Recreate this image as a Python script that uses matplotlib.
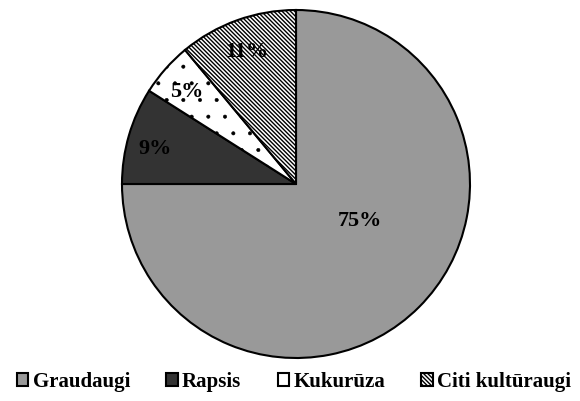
import matplotlib
matplotlib.use("Agg")
import matplotlib.pyplot as plt

categories = ["Graudaugi", "Rapsis", "Kukurūza", "Citi kultūraugi"]
values = [75, 9, 5, 11]
labels = ["75%", "9%", "5%", "11%"]
colors = ["#999999", "#333333", "#ffffff", "#ffffff"]
hatches = [None, None, ".", "\\" * 8]
hatch_lw = [1.0, 1.0, 0.4, 1.0]
# label positions (in pie-radius units)
label_pos = [(0.37, -0.21), (-0.81, 0.20), (-0.63, 0.53), (-0.28, 0.76)]

plt.rcParams["font.family"] = ["Liberation Serif", "DejaVu Serif"]
plt.rcParams["hatch.linewidth"] = 1.0

fig = plt.figure(figsize=(5.8, 4.01), dpi=100)
ax = fig.add_axes([122/580, 43/401, 348/580, 348/401])

wedges, _ = ax.pie(values, startangle=90, counterclock=False, colors=colors,
                   wedgeprops=dict(edgecolor="black", linewidth=1.5),
                   radius=1.0)
for w, h, hl in zip(wedges, hatches, hatch_lw):
    if h:
        w.set_hatch(h)
        try:
            w.set_hatch_linewidth(hl)
        except AttributeError:
            w._hatch_linewidth = hl

for (x, y), t in zip(label_pos, labels):
    ax.text(x, y, t, ha="center", va="center", fontsize=16, fontweight="bold", color="black")

ax.set_xlim(-1.0, 1.0)
ax.set_ylim(-1.0, 1.0)
ax.set_aspect("equal")
ax.axis("off")

leg = fig.legend(wedges, categories, loc="center", bbox_to_anchor=(294/580, 19/401),
                 ncol=4, frameon=False, handlelength=0.55, handleheight=0.55,
                 handletextpad=0.2, columnspacing=1.75,
                 prop=dict(size=15, weight="bold"))

fig.savefig("out.png", dpi=100)
